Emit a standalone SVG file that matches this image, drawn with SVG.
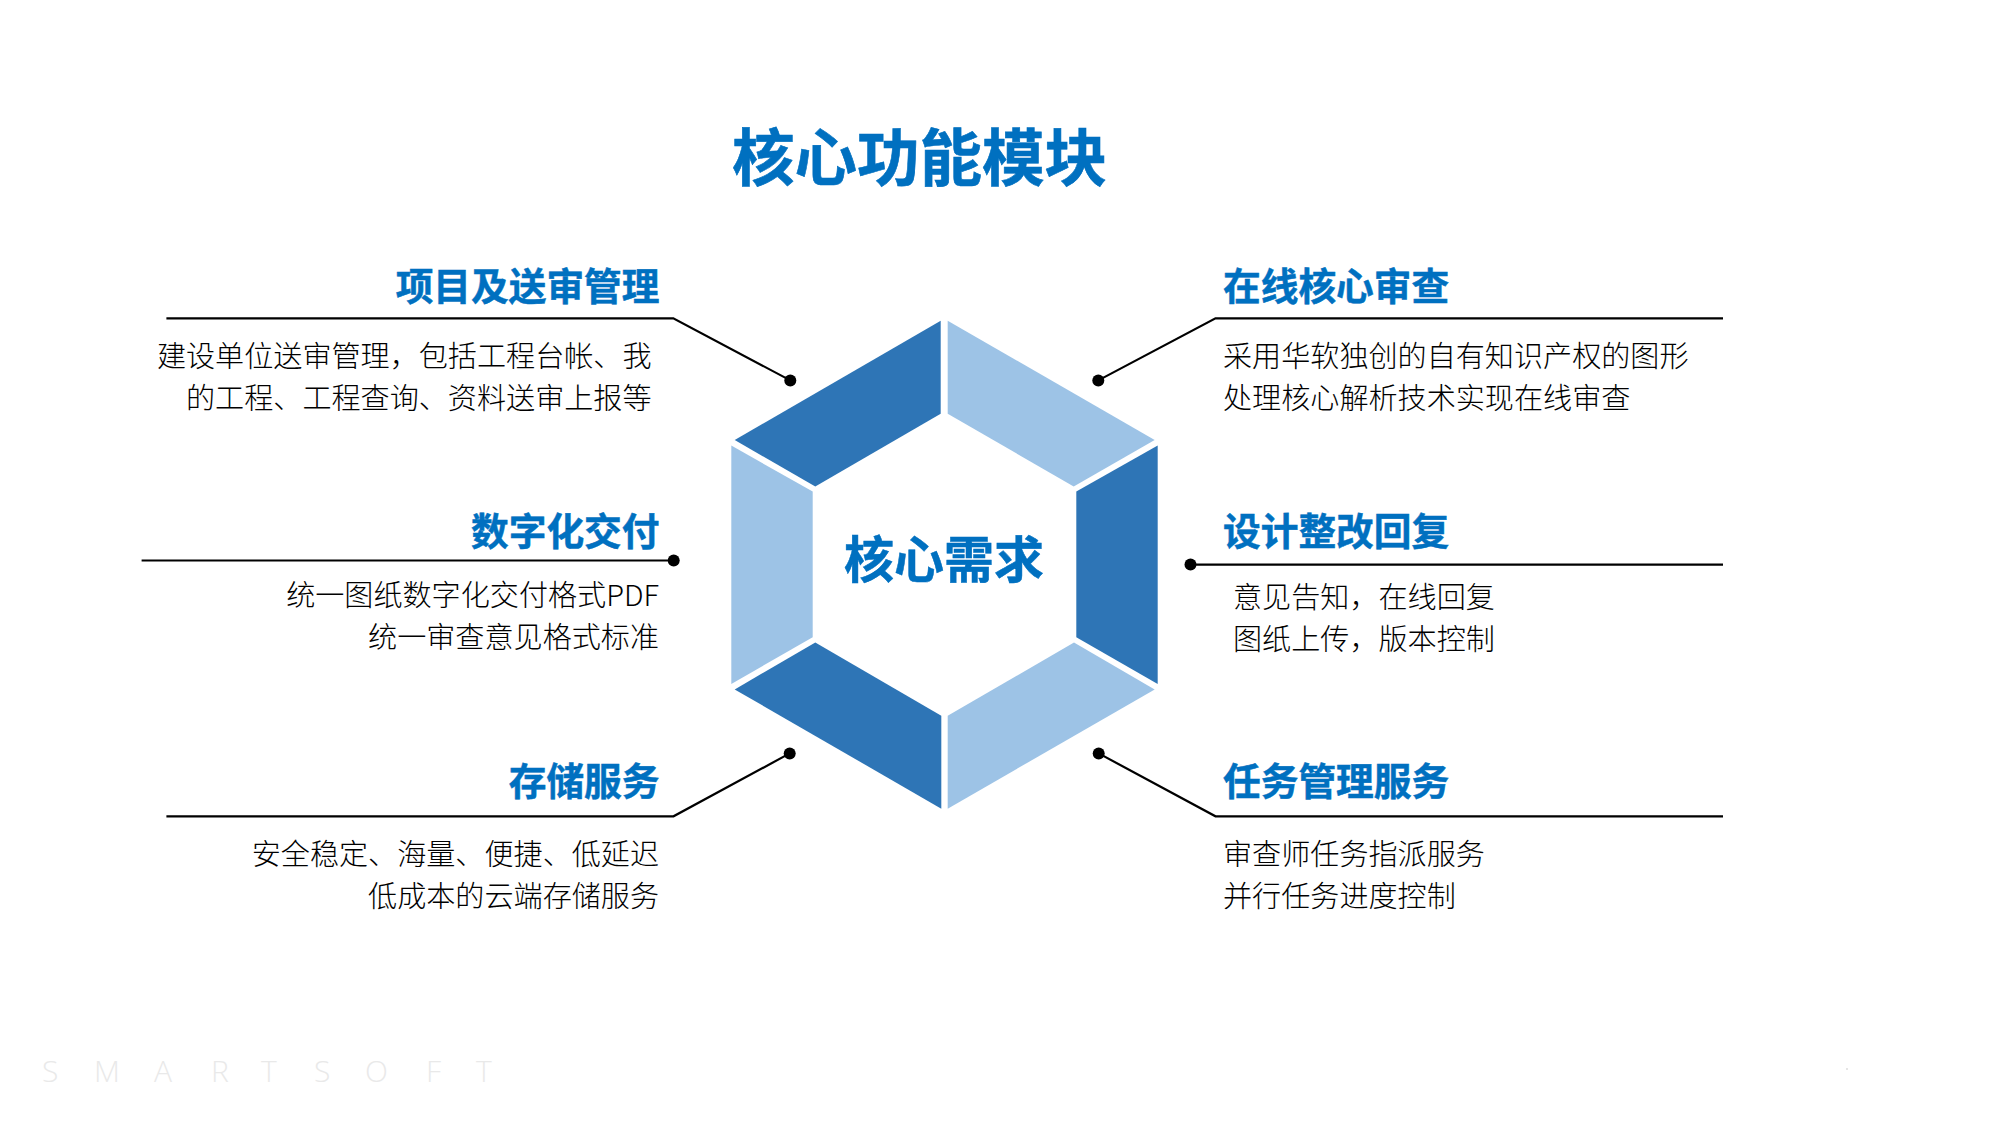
<svg xmlns="http://www.w3.org/2000/svg" width="2000" height="1125" viewBox="0 0 2000 1125">
<style>
text{font-family:"Noto Sans CJK SC","Noto Sans",sans-serif}
.t{fill:#0070c0;stroke:#0070c0;stroke-width:.5px;font-weight:700;font-size:37.7px}
.b{fill:#000;font-weight:300;font-size:29.1px}
.e{text-anchor:end}
.d{fill:#2e75b6}
.l{fill:#9dc3e6}
.c{fill:none;stroke:#000;stroke-width:2.2}
.p{fill:#000}
</style>
<rect width="2000" height="1125" fill="#fff"/>
<text id="title" x="919.5" y="181" text-anchor="middle" style="font-size:62.5px;font-weight:700;fill:#0070c0;stroke:#0070c0;stroke-width:.6px">核心功能模块</text>
<g id="hexagon">
<polygon class="d" points="940.7,320.7 940.7,413.7 815.3,486.6 734.7,440"/>
<polygon class="l" points="947.7,320.7 1154.7,440 1073.7,486.6 947.7,413.7"/>
<polygon class="d" points="1157.7,445.5 1157.7,684 1076.3,637.2 1076.3,491.6"/>
<polygon class="l" points="1154.7,689.4 947.7,808.7 947.7,715.8 1074,642.5"/>
<polygon class="d" points="734.7,689.4 815.3,642.5 941.3,715.8 941.3,808.7"/>
<polygon class="l" points="731.3,445.5 812.7,491.6 812.7,637.2 731.3,684"/>
</g>
<text id="center" x="944" y="578" text-anchor="middle" style="font-size:50px;font-weight:700;fill:#0070c0;stroke:#0070c0;stroke-width:.5px">核心需求</text>
<g id="connectors">
<polyline class="c" points="166.4,318.3 673.3,318.3 790.3,380.4"/>
<circle class="p" cx="790.3" cy="380.4" r="6"/>
<polyline class="c" points="141.6,560.5 673.7,560.5"/>
<circle class="p" cx="673.7" cy="560.5" r="6"/>
<polyline class="c" points="166.4,816.3 673.5,816.3 789.7,753.4"/>
<circle class="p" cx="789.7" cy="753.4" r="6"/>
<polyline class="c" points="1723,318.3 1215.5,318.3 1098.3,380.4"/>
<circle class="p" cx="1098.3" cy="380.4" r="6"/>
<polyline class="c" points="1723,564.6 1190.5,564.6"/>
<circle class="p" cx="1190.5" cy="564.6" r="6"/>
<polyline class="c" points="1723,816.3 1215.5,816.3 1098.7,753.4"/>
<circle class="p" cx="1098.7" cy="753.4" r="6"/>
</g>
<g id="node-project">
<text class="t e" x="659.5" y="300">项目及送审管理</text>
<text class="b e" x="651.5" y="367">建设单位送审管理，包括工程台帐、我</text>
<text class="b e" x="651.5" y="409">的工程、工程查询、资料送审上报等</text>
</g>
<g id="node-digital">
<text class="t e" x="659.5" y="545">数字化交付</text>
<text class="b e" x="659" y="606">统一图纸数字化交付格式PDF</text>
<text class="b e" x="659" y="648">统一审查意见格式标准</text>
</g>
<g id="node-storage">
<text class="t e" x="659.5" y="795">存储服务</text>
<text class="b e" x="659" y="865">安全稳定、海量、便捷、低延迟</text>
<text class="b e" x="659" y="907">低成本的云端存储服务</text>
</g>
<g id="node-review">
<text class="t" x="1223" y="300">在线核心审查</text>
<text class="b" x="1223" y="367">采用华软独创的自有知识产权的图形</text>
<text class="b" x="1223" y="409">处理核心解析技术实现在线审查</text>
</g>
<g id="node-reply">
<text class="t" x="1223" y="545">设计整改回复</text>
<text class="b" x="1233" y="608">意见告知，在线回复</text>
<text class="b" x="1233" y="650">图纸上传，版本控制</text>
</g>
<g id="node-task">
<text class="t" x="1223" y="795">任务管理服务</text>
<text class="b" x="1223" y="865">审查师任务指派服务</text>
<text class="b" x="1223" y="907">并行任务进度控制</text>
</g>
<text id="brand" y="1082" x="42 94 154 211 261 314 365 426 476" style="font-family:'Open Sans',sans-serif;font-weight:300;font-size:30px;fill:#e9e9e9">SMARTSOFT</text>
<circle id="logo-dot" cx="1847" cy="1069" r="1" fill="#ddd"/>
</svg>
